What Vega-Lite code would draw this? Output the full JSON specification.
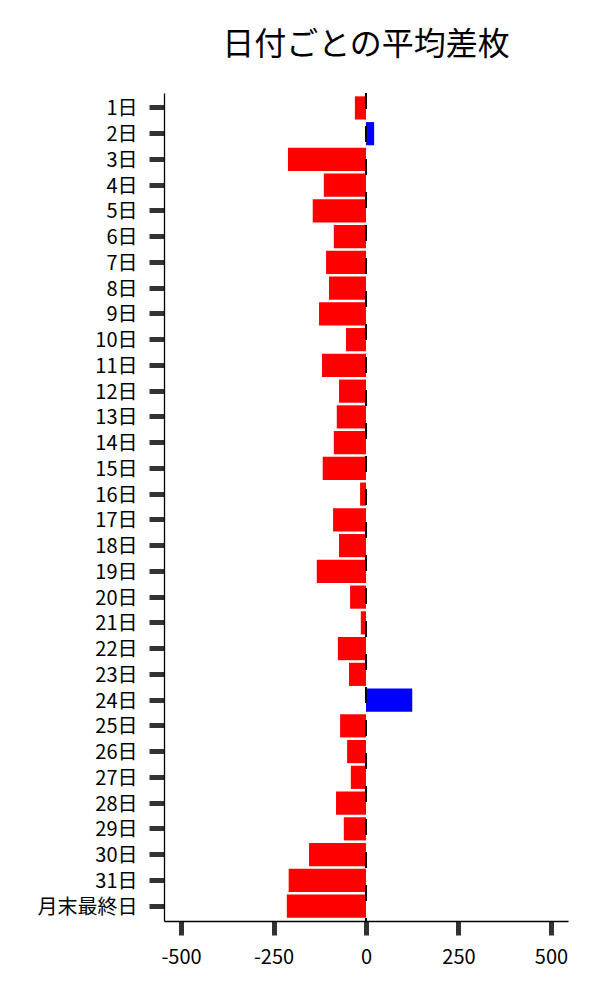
{
  "$schema": "https://vega.github.io/schema/vega-lite/v6.json",
  "width": 404,
  "height": 828,
  "autosize": {"type": "none"},
  "padding": {"left": 164, "top": 93, "right": 32, "bottom": 79},
  "title": {
    "text": "日付ごとの平均差枚",
    "font": "Noto Sans CJK JP",
    "fontSize": 32,
    "fontWeight": "normal",
    "color": "black",
    "offset": 30
  },
  "config": {
    "view": {"stroke": null},
    "font": "Noto Sans CJK JP"
  },
  "data": {
    "values": [
      {"day": "1日", "value": -30},
      {"day": "2日", "value": 22},
      {"day": "3日", "value": -211},
      {"day": "4日", "value": -114},
      {"day": "5日", "value": -144},
      {"day": "6日", "value": -87},
      {"day": "7日", "value": -108},
      {"day": "8日", "value": -100},
      {"day": "9日", "value": -127},
      {"day": "10日", "value": -54},
      {"day": "11日", "value": -119},
      {"day": "12日", "value": -73},
      {"day": "13日", "value": -79},
      {"day": "14日", "value": -87},
      {"day": "15日", "value": -117},
      {"day": "16日", "value": -16},
      {"day": "17日", "value": -89},
      {"day": "18日", "value": -73},
      {"day": "19日", "value": -133},
      {"day": "20日", "value": -43},
      {"day": "21日", "value": -14},
      {"day": "22日", "value": -76},
      {"day": "23日", "value": -46},
      {"day": "24日", "value": 125},
      {"day": "25日", "value": -70},
      {"day": "26日", "value": -51},
      {"day": "27日", "value": -41},
      {"day": "28日", "value": -81},
      {"day": "29日", "value": -60},
      {"day": "30日", "value": -154},
      {"day": "31日", "value": -209},
      {"day": "月末最終日", "value": -214}
    ]
  },
  "layer": [
    {
      "mark": {"type": "bar"},
      "encoding": {
        "y": {
          "field": "day",
          "type": "nominal",
          "sort": null,
          "title": null,
          "scale": {"paddingInner": 0.1, "paddingOuter": 0.13},
          "axis": {
            "domainColor": "black",
            "domainWidth": 1.3,
            "tickColor": "#333333",
            "tickWidth": 5,
            "tickSize": 15,
            "labelPadding": 12,
            "labelOffset": 1.5,
            "labelFontSize": 20,
            "labelColor": "black",
            "labelFont": "Noto Sans CJK JP"
          }
        },
        "x": {
          "field": "value",
          "type": "quantitative",
          "title": null,
          "scale": {"domain": [-546, 546], "nice": false, "zero": false},
          "axis": {
            "values": [-500, -250, 0, 250, 500],
            "labelExpr": "'' + datum.value",
            "grid": false,
            "domainColor": "black",
            "domainWidth": 1.3,
            "tickColor": "#333333",
            "tickWidth": 5,
            "tickSize": 14,
            "labelPadding": 12,
            "labelFontSize": 20,
            "labelColor": "black",
            "labelFont": "Noto Sans CJK JP"
          }
        },
        "color": {
          "condition": {"test": "datum.value >= 0", "value": "#0000ff"},
          "value": "#ff0000"
        }
      }
    },
    {
      "data": {"values": [{"zero": 0}]},
      "mark": {"type": "rule", "color": "black", "strokeWidth": 2, "strokeDash": [16, 17]},
      "encoding": {
        "x": {"field": "zero", "type": "quantitative"}
      }
    }
  ]
}
